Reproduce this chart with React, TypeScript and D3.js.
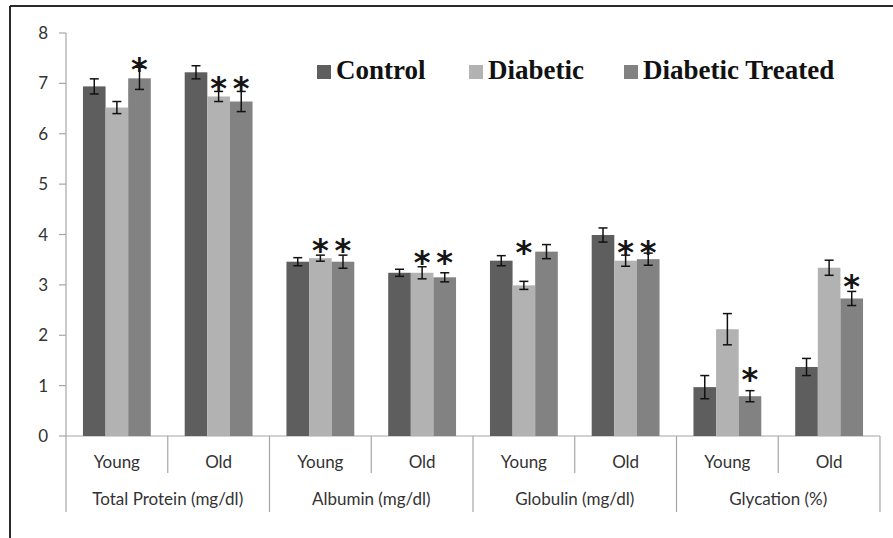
import React from "react"
import * as d3 from "d3"

// categories
const groups = ["Total Protein (mg/dl)", "Albumin (mg/dl)", "Globulin (mg/dl)", "Glycation (%)"]
const ages = ["Young", "Old"]
const series = ["Control", "Diabetic", "Diabetic Treated"]
const colors = ["#5e5e5e", "#b2b2b2", "#828282"]

// values, one per slot (group x age)
const control = [6.94, 7.22, 3.46, 3.24, 3.48, 3.99, 0.97, 1.37]
const controlErr = [0.15, 0.13, 0.08, 0.07, 0.10, 0.14, 0.23, 0.17]
const diabetic = [6.52, 6.74, 3.53, 3.24, 2.99, 3.48, 2.12, 3.34]
const diabeticErr = [0.12, 0.10, 0.06, 0.12, 0.08, 0.11, 0.31, 0.15]
const treated = [7.10, 6.64, 3.46, 3.15, 3.66, 3.51, 0.79, 2.73]
const treatedErr = [0.22, 0.20, 0.13, 0.09, 0.14, 0.12, 0.11, 0.14]

// significance stars: which series get one, and the level they sit at
const starSeries = [[2], [1, 2], [1, 2], [1, 2], [1], [1, 2], [2], [2]]
const starLevel = [7.42, 7.04, 3.83, 3.59, 3.79, 3.79, 1.26, 3.10]

const yTicks = [0, 1, 2, 3, 4, 5, 6, 7, 8]

const W = 893, H = 538
const margin = {top: 33, right: 13, bottom: 102, left: 66}

const App = () => {
    const values = [control, diabetic, treated]
    const errors = [controlErr, diabeticErr, treatedErr]
    const slots = groups.flatMap(g => ages.map(a => g + "|" + a))

    const x = d3.scaleBand().domain(slots).range([margin.left, W - margin.right])
    const xs = d3.scaleBand().domain(series).range([0, x.bandwidth()]).paddingInner(0).paddingOuter(0.75)
    const y = d3.scaleLinear().domain([0, 8]).range([H - margin.bottom, margin.top])
    const y0 = y(0)
    const axisColor = "#a6a6a6"
    const labelFont = "Lato, 'Liberation Sans', sans-serif"
    const starSize = 32

    const legendX = [317, 469, 624]

    return (
        <svg width={W} height={H} style={{position: "absolute", left: 0, top: 0, background: "#fff"}}>
            {/* frame */}
            <line x1={10} x2={W} y1={6} y2={6} stroke="#2a2a2a" strokeWidth={2} />
            <line x1={10} x2={10} y1={6} y2={H} stroke="#2a2a2a" strokeWidth={2} />

            {/* y axis */}
            <line x1={margin.left} x2={margin.left} y1={y(8)} y2={512} stroke={axisColor} strokeWidth={1.2} />
            {yTicks.map(t => (
                <g key={t}>
                    <line x1={margin.left - 7} x2={margin.left} y1={y(t)} y2={y(t)} stroke={axisColor} strokeWidth={1.2} />
                    <text x={48} y={y(t)} dy="0.36em" textAnchor="end" fontFamily={labelFont} fontSize={17} fill="#333">{t}</text>
                </g>
            ))}

            {/* x axis and dividers */}
            <line x1={margin.left} x2={W - margin.right} y1={y0} y2={y0} stroke={axisColor} strokeWidth={1.2} />
            {slots.map((s, i) => {
                const xr = x(s)! + x.bandwidth()
                const long = i % 2 === 1
                return <line key={s} x1={xr} x2={xr} y1={y0} y2={long ? 512 : 473} stroke={axisColor} strokeWidth={1.2} />
            })}
            {slots.map(s => (
                <text key={s} x={x(s)! + x.bandwidth() / 2} y={462} dy="0.35em" textAnchor="middle"
                    fontFamily={labelFont} fontSize={17} fill="#333">{s.split("|")[1]}</text>
            ))}
            {groups.map((g, i) => (
                <text key={g} x={x(slots[i * 2])! + x.bandwidth()} y={499} dy="0.35em" textAnchor="middle"
                    fontFamily={labelFont} fontSize={17} fill="#333">{g}</text>
            ))}

            {/* bars */}
            {series.map((sName, si) => (
                <g key={sName} fill={colors[si]}>
                    {slots.map((s, i) => (
                        <rect key={s} x={x(s)! + xs(sName)!} y={y(values[si][i])} width={xs.bandwidth()}
                            height={y0 - y(values[si][i])} />
                    ))}
                </g>
            ))}

            {/* error bars */}
            {series.map((sName, si) => (
                <g key={sName} stroke="#111" strokeWidth={1.5}>
                    {slots.map((s, i) => {
                        const cx = x(s)! + xs(sName)! + xs.bandwidth() / 2
                        const hi = y(values[si][i] + errors[si][i])
                        const lo = y(values[si][i] - errors[si][i])
                        return (
                            <g key={s}>
                                <line x1={cx} x2={cx} y1={hi} y2={lo} />
                                <line x1={cx - 4.5} x2={cx + 4.5} y1={hi} y2={hi} />
                                <line x1={cx - 4.5} x2={cx + 4.5} y1={lo} y2={lo} />
                            </g>
                        )
                    })}
                </g>
            ))}

            {/* stars */}
            {slots.map((s, i) => starSeries[i].map(si => (
                <text key={s + si} x={x(s)! + xs(series[si])! + xs.bandwidth() / 2} y={y(starLevel[i]) + 0.55 * starSize}
                    textAnchor="middle" fontFamily="'DejaVu Sans', sans-serif" fontWeight="bold"
                    fontSize={starSize} fill="#151515">*</text>
            )))}

            {/* legend */}
            {series.map((sName, si) => (
                <g key={sName}>
                    <rect x={legendX[si]} y={65} width={14} height={14} fill={colors[si]} />
                    <text x={legendX[si] + 19} y={79} fontFamily="'Liberation Serif', serif" fontWeight="bold"
                        fontSize={27} fill="#111">{sName}</text>
                </g>
            ))}
        </svg>
    )
}

export default App
